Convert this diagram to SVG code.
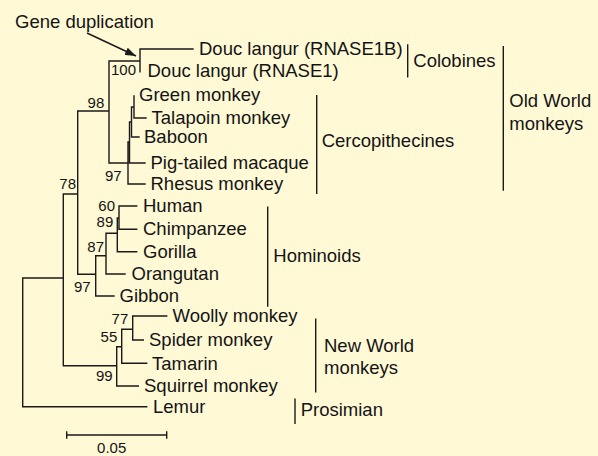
<svg xmlns="http://www.w3.org/2000/svg" width="598" height="456" viewBox="0 0 598 456">
<style>
.t{font-family:"Liberation Sans",Arial,sans-serif;font-size:18.5px;fill:#141414}
.b{font-family:"Liberation Sans",Arial,sans-serif;font-size:15px;fill:#141414;text-anchor:end}
.s{font-family:"Liberation Sans",Arial,sans-serif;font-size:15px;fill:#141414;text-anchor:middle}
.l{fill:none;stroke:#1a1a1a;stroke-width:1.4;stroke-linecap:square}
</style>
<defs>
<marker id="ah" markerUnits="userSpaceOnUse" markerWidth="11" markerHeight="8" refX="11" refY="4" orient="auto">
<path d="M0,0 L11,4 L0,8 z" fill="#1a1a1a"/>
</marker>
</defs>
<rect width="598" height="456" fill="#FFF9D6"/>
<g id="connectors">
<path class="l" d="M22.7,278 V406.7 M22.7,278 H63.3 M22.7,406.7 H146.7
M63.3,194 V365.7 M63.3,194 H77.7 M63.3,365.7 H116.7
M77.7,111 V274.3 M77.7,111 H109 M77.7,274.3 H95.7
M109,61 V163 M109,61 H140 M109,163 H128
M140,49 V71.7 M140,49 H193
M128,142 V184 M128,142 H129.5 M128,184 H145
M129.5,122 V163 M129.5,163 H145 M129.5,122 H131.5
M131.5,107 V137 M131.5,137 H139 M131.5,107 H134
M134,96 V118 M134,118 H146
M95.7,255.7 V296 M95.7,255.7 H106 M95.7,296 H114
M106,233.3 V274 M106,233.3 H117.3 M106,274 H125
M117.3,218 V251.7 M117.3,218 H119 M117.3,251.7 H136.7
M119,206 V229.3 M119,206 H136.7 M119,229.3 H136.7
M116.7,346.7 V386 M116.7,346.7 H121.7 M116.7,386 H138.3
M121.7,329.3 V363.3 M121.7,329.3 H132.7 M121.7,363.3 H146.7
M132.7,316 V340 M132.7,316 H166.7 M132.7,340 H143.3"/>
<path id="arrow" d="M87,33 L136,56" stroke="#1a1a1a" stroke-width="1.4" fill="none" marker-end="url(#ah)"/>
</g>
<g id="gene-duplication"><text class="t" x="15" y="27.5">Gene duplication</text></g>
<g id="leaves">
<g id="douc-rnase1b"><text class="t" x="199" y="55">Douc langur (RNASE1B)</text></g>
<g id="douc-rnase1"><text class="t" x="147.5" y="77">Douc langur (RNASE1)</text></g>
<g id="green-monkey"><text class="t" x="139" y="101">Green monkey</text></g>
<g id="talapoin"><text class="t" x="151.5" y="123.5">Talapoin monkey</text></g>
<g id="baboon"><text class="t" x="144" y="143">Baboon</text></g>
<g id="pig-tailed"><text class="t" x="150.5" y="168.5">Pig-tailed macaque</text></g>
<g id="rhesus"><text class="t" x="150.5" y="189.5">Rhesus monkey</text></g>
<g id="human"><text class="t" x="143" y="212">Human</text></g>
<g id="chimpanzee"><text class="t" x="143" y="235">Chimpanzee</text></g>
<g id="gorilla"><text class="t" x="143" y="257.5">Gorilla</text></g>
<g id="orangutan"><text class="t" x="131.5" y="280">Orangutan</text></g>
<g id="gibbon"><text class="t" x="119.5" y="302">Gibbon</text></g>
<g id="woolly"><text class="t" x="172.5" y="322">Woolly monkey</text></g>
<g id="spider"><text class="t" x="149" y="346">Spider monkey</text></g>
<g id="tamarin"><text class="t" x="152" y="369.5">Tamarin</text></g>
<g id="squirrel"><text class="t" x="144" y="392">Squirrel monkey</text></g>
<g id="lemur"><text class="t" x="153" y="413">Lemur</text></g>
</g>
<g id="bootstrap">
<text class="b" x="136" y="75">100</text>
<text class="b" x="104.3" y="107.5">98</text>
<text class="b" x="121.7" y="181">97</text>
<text class="b" x="76" y="189">78</text>
<text class="b" x="115" y="210.7">60</text>
<text class="b" x="113.3" y="227.3">89</text>
<text class="b" x="104" y="251.7">87</text>
<text class="b" x="90.7" y="292.3">97</text>
<text class="b" x="128.3" y="324">77</text>
<text class="b" x="117.3" y="342.3">55</text>
<text class="b" x="112.7" y="381">99</text>
</g>
<g id="clades">
<g id="colobines"><path class="l" d="M407.7,45 V76.7"/><text class="t" x="413.3" y="66.7">Colobines</text></g>
<g id="cercopithecines"><path class="l" d="M316.7,95.7 V193.3"/><text class="t" x="321.7" y="146.7">Cercopithecines</text></g>
<g id="old-world"><path class="l" d="M503.3,46.7 V190"/><text class="t" x="509.3" y="107.3">Old World</text><text class="t" x="509.3" y="130">monkeys</text></g>
<g id="hominoids"><path class="l" d="M267.7,207.3 V306"/><text class="t" x="273.3" y="262.3">Hominoids</text></g>
<g id="new-world"><path class="l" d="M315.7,319.3 V391.7"/><text class="t" x="324" y="351.7">New World</text><text class="t" x="324" y="374">monkeys</text></g>
<g id="prosimian"><path class="l" d="M295,399.3 V423.3"/><text class="t" x="300.7" y="416">Prosimian</text></g>
</g>
<g id="scale-bar">
<path class="l" d="M66.7,435 H166.7 M66.7,432 V438 M166.7,432 V438"/>
<text class="s" x="111.7" y="452.5">0.05</text>
</g>
</svg>
